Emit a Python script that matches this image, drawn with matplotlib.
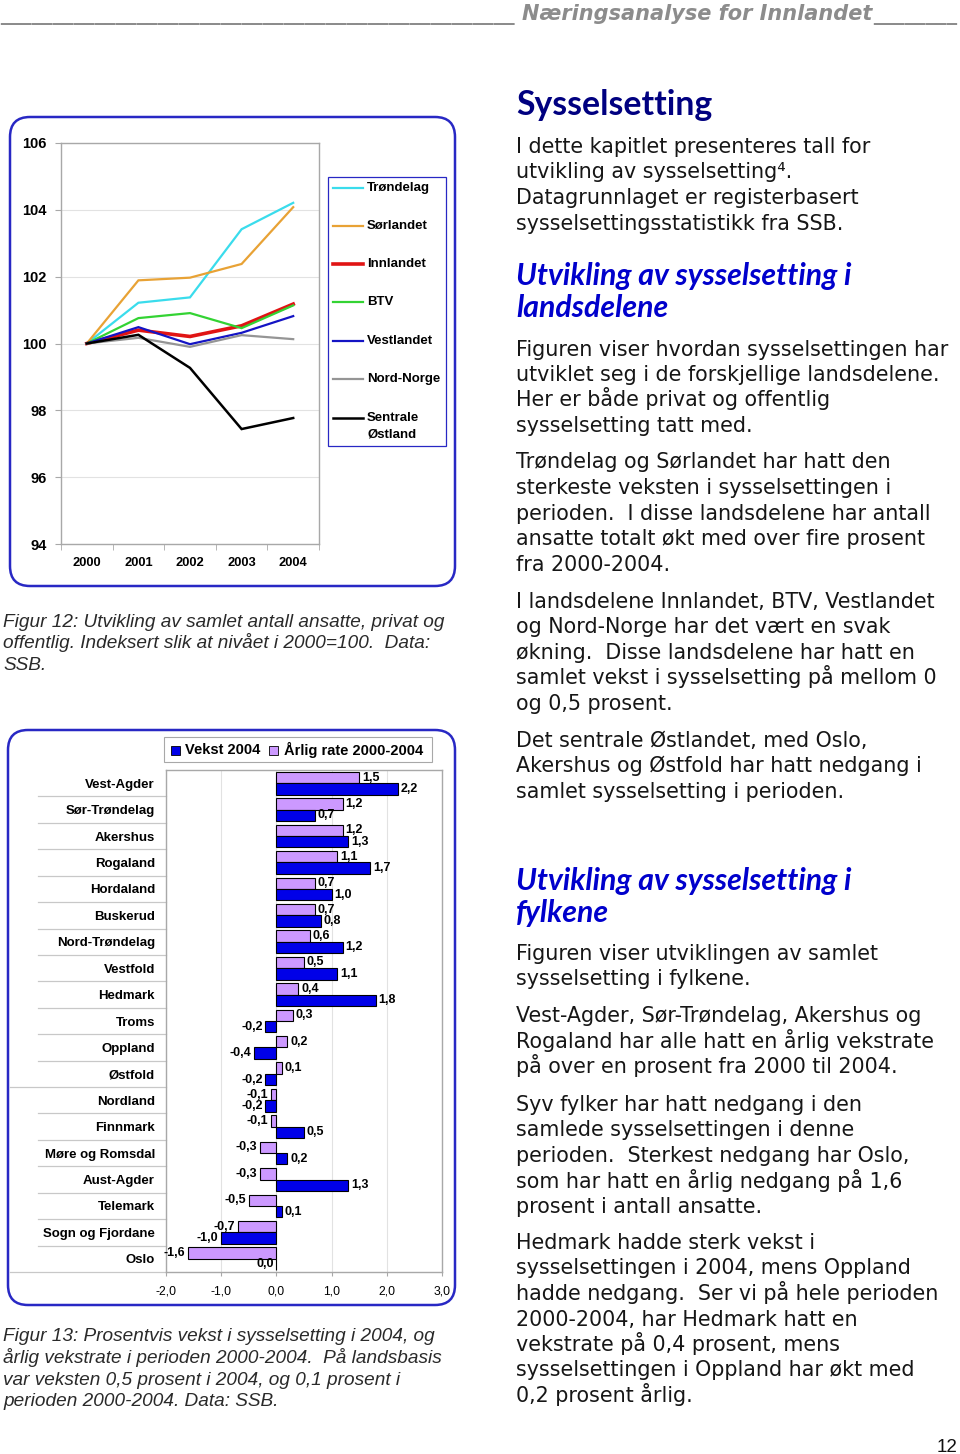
import matplotlib
matplotlib.use("Agg")
import matplotlib.pyplot as plt
import numpy as np
from matplotlib.patches import FancyBboxPatch, Rectangle
from matplotlib.lines import Line2D
from matplotlib.transforms import IdentityTransform, blended_transform_factory

# ---------------- data: Figur 12 (index, 2000 = 100) ----------------
years = ["2000", "2001", "2002", "2003", "2004"]
region_names = ["Trøndelag", "Sørlandet", "Innlandet", "BTV",
                "Vestlandet", "Nord-Norge", "Sentrale Østland"]
trondelag = [100.0, 101.22, 101.38, 103.42, 104.21]
sorlandet = [100.0, 101.89, 101.97, 102.38, 104.08]
innlandet = [100.0, 100.40, 100.21, 100.53, 101.18]
btv = [100.0, 100.76, 100.91, 100.46, 101.14]
vestlandet = [100.0, 100.49, 99.98, 100.32, 100.82]
nord_norge = [100.0, 100.17, 99.90, 100.25, 100.13]
sentrale_ostland = [100.0, 100.26, 99.27, 97.44, 97.77]
line_y_ticks = [94, 96, 98, 100, 102, 104, 106]

# ---------------- data: Figur 13 (percent) ----------------
fylker = ["Vest-Agder", "Sør-Trøndelag", "Akershus", "Rogaland", "Hordaland",
          "Buskerud", "Nord-Trøndelag", "Vestfold", "Hedmark", "Troms",
          "Oppland", "Østfold", "Nordland", "Finnmark", "Møre og Romsdal",
          "Aust-Agder", "Telemark", "Sogn og Fjordane", "Oslo"]
arlig_rate = [1.5, 1.2, 1.2, 1.1, 0.7, 0.7, 0.6, 0.5, 0.4, 0.3,
              0.2, 0.1, -0.1, -0.1, -0.3, -0.3, -0.5, -0.7, -1.6]
vekst_2004 = [2.2, 0.7, 1.3, 1.7, 1.0, 0.8, 1.2, 1.1, 1.8, -0.2,
              -0.4, -0.2, -0.2, 0.5, 0.2, 1.3, 0.1, -1.0, 0.0]
bar_x_ticks = [-2.0, -1.0, 0.0, 1.0, 2.0, 3.0]

# ---------------- styles ----------------
line_colors = ["#3ADCEC", "#E8A235", "#E01414", "#33D333", "#1414C4", "#959595", "#000000"]
line_widths = [1.6, 1.6, 2.6, 1.6, 1.6, 1.6, 1.8]
COL_VEKST = "#0000E8"
COL_RATE = "#CC99FF"
BOX = "#2828C4"
FRAME = "#A8A8A8"
GRID = "#E2E2E2"

W, H = 960, 1454
fig = plt.figure(figsize=(W / 100, H / 100), dpi=100)
fig.patch.set_facecolor("white")
PX = IdentityTransform()


def T(x, y, s, **kw):
    kw.setdefault("va", "baseline")
    return fig.text(x / W, 1 - y / H, s, **kw)


def add_axes_px(l, t, r, b):
    return fig.add_axes([l / W, 1 - b / H, (r - l) / W, (b - t) / H])


def fmt(v):
    return f"{v:.1f}".replace(".", ",")


# ---------------- page header ----------------
hdr = dict(family="DejaVu Sans", weight="bold", style="italic", color="#8C8C8C", size=15)
T(0, 20, "_" * 49, **hdr)
T(522, 20, "Næringsanalyse for Innlandet", **hdr)
T(873, 20, "_" * 8, **hdr)

# ---------------- Figur 12: line chart ----------------
fig.add_artist(FancyBboxPatch((10, H - 586), 445, 469,
                              boxstyle="round,pad=0,rounding_size=20",
                              transform=PX, fill=False, ec=BOX, lw=1.8))
ax1 = add_axes_px(61, 143, 319, 544)
xs = np.arange(len(years))
series = [trondelag, sorlandet, innlandet, btv, vestlandet, nord_norge, sentrale_ostland]
for vals, c, lw in zip(series, line_colors, line_widths):
    ax1.plot(xs, vals, color=c, lw=lw, solid_joinstyle="miter")
ax1.set_xlim(-0.5, len(years) - 0.5)
ax1.set_ylim(line_y_ticks[0], line_y_ticks[-1])
ax1.set_yticks(line_y_ticks)
ax1.set_yticklabels([str(v) for v in line_y_ticks], fontsize=10.5, fontweight="bold",
                    family="Liberation Sans")
ax1.set_xticks(xs)
ax1.set_xticklabels(years, fontsize=9.3, fontweight="bold", family="Liberation Sans")
ax1.set_xticks(np.arange(-0.5, len(years)), minor=True)
ax1.tick_params(axis="x", which="major", length=0, pad=9.5)
ax1.tick_params(axis="x", which="minor", length=4, color=FRAME, direction="out")
ax1.tick_params(axis="y", length=4, color=FRAME, pad=6.5)
ax1.yaxis.grid(True, color=GRID, lw=0.8)
ax1.set_axisbelow(True)
for s in ax1.spines.values():
    s.set_color(FRAME)
    s.set_linewidth(1.0)

# legend (drawn manually to follow the original layout)
fig.add_artist(Rectangle((328, H - 446), 118, 269, transform=PX, fill=False, ec=BOX, lw=0.9))
leg_y = [188, 226, 264, 302, 341, 379, 418]
for name, c, lw, yy in zip(region_names, line_colors, line_widths, leg_y):
    fig.add_artist(Line2D([333, 363], [H - yy, H - yy], transform=PX, color=c, lw=lw))
    parts = name.split(" ") if name == "Sentrale Østland" else [name]
    for k, p in enumerate(parts):
        T(367, yy + 17 * k, p, va="center", fontsize=9.5, fontweight="bold",
          family="Liberation Sans")

# caption 12
cap = dict(family="Liberation Sans", style="italic", color="#2A2A2A", size=13.7)
T(3, 627, "Figur 12: Utvikling av samlet antall ansatte, privat og", **cap)
T(3, 648.5, "offentlig. Indeksert slik at nivået i 2000=100.  Data:", **cap)
T(3, 670, "SSB.", **cap)

# ---------------- Figur 13: bar chart ----------------
fig.add_artist(FancyBboxPatch((8, H - 1305), 447, 575,
                              boxstyle="round,pad=0,rounding_size=20",
                              transform=PX, fill=False, ec=BOX, lw=1.8))
ax2 = add_axes_px(166, 770, 442, 1272)
ys = np.arange(len(fylker))
bh = 0.43
ax2.barh(ys - bh / 2, arlig_rate, height=bh, color=COL_RATE, edgecolor="black", lw=0.8, zorder=3)
ax2.barh(ys + bh / 2, vekst_2004, height=bh, color=COL_VEKST, edgecolor="black", lw=0.8, zorder=3)
ax2.set_xlim(bar_x_ticks[0], bar_x_ticks[-1])
ax2.set_ylim(len(fylker) - 0.5, -0.5)
ax2.set_xticks(bar_x_ticks)
ax2.set_xticklabels([fmt(v) for v in bar_x_ticks], fontsize=8.7, family="Liberation Sans")
ax2.set_yticks(ys)
ax2.set_yticklabels(fylker, fontsize=9.5, fontweight="bold", family="Liberation Sans")
ax2.tick_params(axis="y", length=0, pad=8)
ax2.tick_params(axis="x", length=3, color=FRAME, pad=7)
ax2.xaxis.grid(True, color=GRID, lw=0.8)
ax2.set_axisbelow(True)
for s in ax2.spines.values():
    s.set_color(FRAME)
    s.set_linewidth(1.0)

lab = dict(fontsize=9, fontweight="bold", family="Liberation Sans", va="center",
           textcoords="offset points", annotation_clip=False)
for yy, r, v in zip(ys, arlig_rate, vekst_2004):
    for val, off in ((r, -bh / 2), (v, bh / 2)):
        if val > 0:
            ax2.annotate(fmt(val), (val, yy + off), xytext=(2, 0), ha="left", **lab)
        else:
            ax2.annotate(fmt(val), (val, yy + off), xytext=(-2, 0), ha="right", **lab)

# separator lines of the category table
sep = blended_transform_factory(fig.transFigure, ax2.transData)
for k in range(len(fylker)):
    yb = k + 0.5
    x0 = 10 if k in (11, len(fylker) - 1) else 38
    ax2.add_line(Line2D([x0 / W, 166 / W], [yb, yb], transform=sep, color="#C8C8C8",
                        lw=0.9, clip_on=False))

# bar legend
fig.add_artist(Rectangle((164, H - 762), 268, 25, transform=PX, fc="white", ec=FRAME, lw=0.8))
fig.add_artist(Rectangle((171, H - 755), 9, 9, transform=PX, fc=COL_VEKST, ec="black", lw=0.6))
fig.add_artist(Rectangle((269, H - 755), 9, 9, transform=PX, fc=COL_RATE, ec="black", lw=0.6))
T(185, 750, "Vekst 2004", va="center", fontsize=10.5, fontweight="bold", family="Liberation Sans")
T(284, 750, "Årlig rate 2000-2004", va="center", fontsize=10.5, fontweight="bold",
  family="Liberation Sans")

# caption 13
T(3, 1341, "Figur 13: Prosentvis vekst i sysselsetting i 2004, og", **cap)
T(3, 1363, "årlig vekstrate i perioden 2000-2004.  På landsbasis", **cap)
T(3, 1385, "var veksten 0,5 prosent i 2004, og 0,1 prosent i", **cap)
T(3, 1406, "perioden 2000-2004. Data: SSB.", **cap)

# ---------------- right text column ----------------
XR = 516
h1 = dict(family="Lato", weight="bold", color="#000080", size=24.3)
h2 = dict(family="Lato", weight="bold", style="italic", color="#0000CC", size=21.8)
body = dict(family="DejaVu Sans", color="#161616", size=14.9)

T(XR, 115, "Sysselsetting", **h1)

blocks = [
    (153, ["I dette kapitlet presenteres tall for",
           "utvikling av sysselsetting\u2074.",
           "Datagrunnlaget er registerbasert",
           "sysselsettingsstatistikk fra SSB."]),
    (355.5, ["Figuren viser hvordan sysselsettingen har",
             "utviklet seg i de forskjellige landsdelene.",
             "Her er både privat og offentlig",
             "sysselsetting tatt med."]),
    (468.5, ["Trøndelag og Sørlandet har hatt den",
             "sterkeste veksten i sysselsettingen i",
             "perioden.  I disse landsdelene har antall",
             "ansatte totalt økt med over fire prosent",
             "fra 2000-2004."]),
    (607.5, ["I landsdelene Innlandet, BTV, Vestlandet",
             "og Nord-Norge har det vært en svak",
             "økning.  Disse landsdelene har hatt en",
             "samlet vekst i sysselsetting på mellom 0",
             "og 0,5 prosent."]),
    (746.5, ["Det sentrale Østlandet, med Oslo,",
             "Akershus og Østfold har hatt nedgang i",
             "samlet sysselsetting i perioden."]),
    (959.5, ["Figuren viser utviklingen av samlet",
             "sysselsetting i fylkene."]),
    (1022, ["Vest-Agder, Sør-Trøndelag, Akershus og",
            "Rogaland har alle hatt en årlig vekstrate",
            "på over en prosent fra 2000 til 2004."]),
    (1111, ["Syv fylker har hatt nedgang i den",
            "samlede sysselsettingen i denne",
            "perioden.  Sterkest nedgang har Oslo,",
            "som har hatt en årlig nedgang på 1,6",
            "prosent i antall ansatte."]),
    (1249, ["Hedmark hadde sterk vekst i",
            "sysselsettingen i 2004, mens Oppland",
            "hadde nedgang.  Ser vi på hele perioden",
            "2000-2004, har Hedmark hatt en",
            "vekstrate på 0,4 prosent, mens",
            "sysselsettingen i Oppland har økt med",
            "0,2 prosent årlig."]),
]
for y0, lines in blocks:
    for k, line in enumerate(lines):
        T(XR, y0 + 25.5 * k, line, **body)

T(XR, 285, "Utvikling av sysselsetting i", **h2)
T(XR, 317, "landsdelene", **h2)
T(XR, 890, "Utvikling av sysselsetting i", **h2)
T(XR, 922, "fylkene", **h2)

# page number
T(958, 1452, "12", ha="right", family="Liberation Sans", size=13.5, color="#111111")

fig.savefig("out.png", dpi=100)
